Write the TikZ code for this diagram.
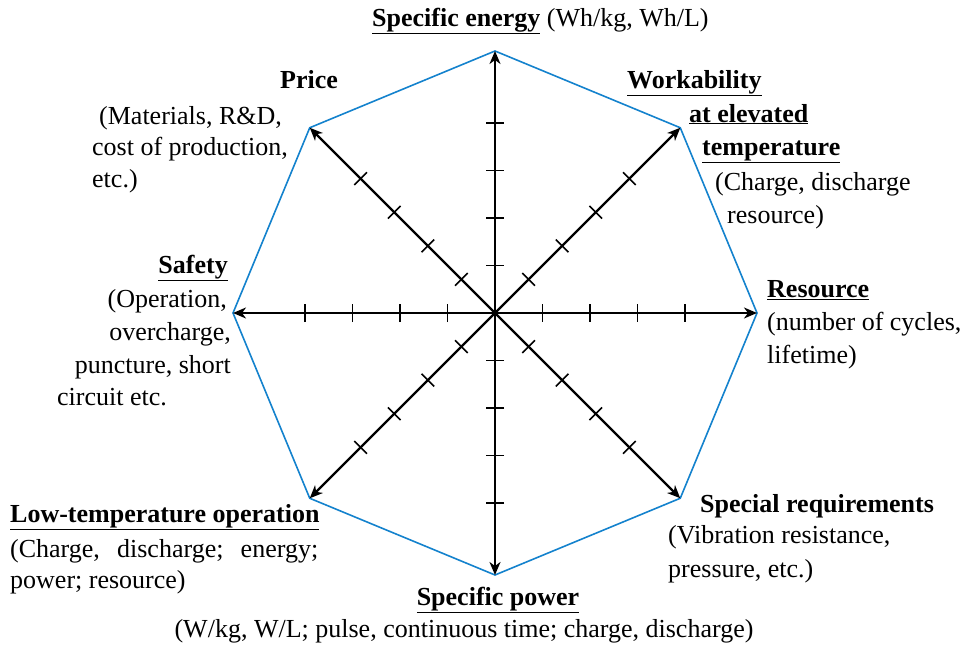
\documentclass[tikz,border=0pt]{standalone}
\usepackage{fontspec}
\setmainfont{Liberation Serif}
\usetikzlibrary{arrows.meta,calc}
\definecolor{octblue}{RGB}{20,130,205}
\tikzset{
  lbl/.style={inner sep=0pt, anchor=base west, font=\fontsize{26}{33}\selectfont},
  axis/.style={line width=2.2pt, -{Stealth[length=13pt,width=11pt,inset=4pt]}},
  tick/.style={line width=1.6pt},
  octo/.style={octblue, line width=1.6pt, line join=miter}
}
\newcommand{\ulb}[1]{\underline{\textbf{#1}}}
\begin{document}
\begin{tikzpicture}[x=1pt,y=1pt]
\useasboundingbox (0,0) rectangle (975,-645);
\coordinate (C) at (495,-313);
% vertices
\foreach \a/\n in {90/vt,45/vtr,0/vr,-45/vbr,-90/vb,-135/vbl,180/vl,135/vtl}
  \coordinate (\n) at ($(C)+(\a:262)$);
\draw[octo] (vt) -- (vtr) -- (vr) -- (vbr) -- (vb) -- (vbl) -- (vl) -- (vtl) -- cycle;
% ticks
\foreach \a in {0,45,...,315}
  \foreach \d in {47.5,95,142.5,190}
    \draw[tick] ($(C)+(\a:\d)+(\a+90:9)$) -- ($(C)+(\a:\d)+(\a-90:9)$);
% axes
\foreach \n in {vt,vtr,vr,vbr,vb,vbl,vl,vtl}
  \draw[axis] (C) -- (\n);
% labels
\node[lbl] (se) at (372,-26) {\ulb{Specific energy} (Wh/kg, Wh/L)};
\node[lbl] (pr) at (280,-88) {\textbf{Price}};
\node[lbl] (pr1) at (99,-124) {(Materials, R\&D,};
\node[lbl] (pr2) at (92,-155) {cost of production,};
\node[lbl] (pr3) at (92,-187) {etc.)};
\node[lbl,anchor=base east] (sa) at (228,-273) {\ulb{Safety}};
\node[lbl,anchor=base east] (sa1) at (227,-307) {(Operation,};
\node[lbl,anchor=base east] (sa2) at (231,-340) {overcharge,};
\node[lbl,anchor=base east] (sa3) at (231,-373) {puncture, short};
\node[lbl] (sa4) at (57,-405) {circuit etc.};
\node[lbl] (wo) at (627,-88) {\ulb{Workability}};
\node[lbl] (wo1) at (689,-122) {\ulb{at elevated}};
\node[lbl] (wo2) at (702,-155) {\ulb{temperature}};
\node[lbl] (wo3) at (715,-190) {(Charge, discharge};
\node[lbl] (wo4) at (727,-223) {resource)};
\node[lbl] (re) at (767,-297) {\ulb{Resource}};
\node[lbl] (re1) at (767,-330) {(number of cycles,};
\node[lbl] (re2) at (767,-363) {lifetime)};
\node[lbl] (sr) at (700,-512) {\textbf{Special requirements}};
\node[lbl] (sr1) at (668,-543) {(Vibration resistance,};
\node[lbl] (sr2) at (668,-577) {pressure, etc.)};
\node[lbl] (lt) at (10,-522) {\ulb{Low-temperature operation}};
\node[lbl] (lt1) at (10,-557) {\hbox to 308pt{(Charge,\hfill discharge;\hfill energy;}};
\node[lbl] (lt2) at (10,-588) {power; resource)};
\node[lbl,anchor=base] (sp) at (498,-605) {\ulb{Specific power}};
\node[lbl,anchor=base] (sp1) at (464,-637) {(W/kg, W/L; pulse, continuous time; charge, discharge)};
\end{tikzpicture}
\end{document}
